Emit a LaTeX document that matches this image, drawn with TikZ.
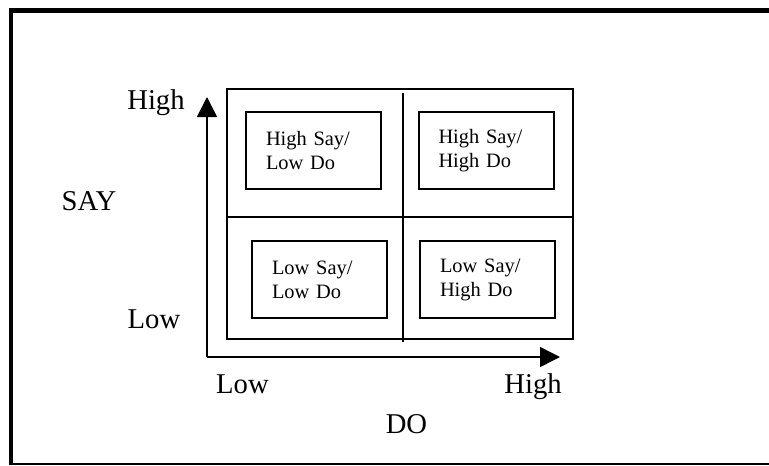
\documentclass[tikz,border=0pt]{standalone}
\usepackage{fontspec}
\setmainfont{Liberation Serif}
\usetikzlibrary{arrows.meta}

\tikzset{
  quadbox/.style={draw, line width=1.5pt, minimum width=101.25pt, minimum height=57.75pt,
    text width=71.25pt, inner xsep=15pt, align=left, font=\fontsize{15.3}{18}\selectfont},
  axislabel/.style={anchor=base, inner sep=0pt, font=\fontsize{21.5}{24}\selectfont},
  axisline/.style={line width=1.1pt, -{Triangle[length=15pt,width=15pt]}}
}

\begin{document}
\begin{tikzpicture}[x=0.75pt,y=-0.75pt]
\useasboundingbox (0,0) rectangle (769,465);

% Frame
\draw[line width=3.4pt] (11,465) -- (11,10.5) -- (769,10.5);
\draw[line width=0.8pt] (11,464) -- (769,464);

% Grid
\draw[line width=1pt] (227,89) rectangle (573,339);
\draw[line width=1pt] (227,217) -- (574,217);
\draw[line width=1pt] (403,93) -- (403,342);

% Quadrants
\node[quadbox] (hsld) at (313.5,150.5) {High Say/\\Low Do};
\node[quadbox] (hshd) at (486,150.5) {High Say/\\High Do};
\node[quadbox] (lsld) at (319.5,279.5) {Low Say/\\Low Do};
\node[quadbox] (lshd) at (487.5,279.5) {Low Say/\\High Do};

% Axes
\coordinate (origin) at (207,357);
\coordinate (saytip) at (207,97);
\coordinate (dotip) at (560,357);
\draw[axisline] (origin) -- (saytip);
\draw[axisline] (origin) -- (dotip);

% Axis labels
\node[axislabel] (sayhigh) at (156,109) {High};
\node[axislabel] (say) at (89,210) {SAY};
\node[axislabel] (saylow) at (154,328) {Low};
\node[axislabel] (dolow) at (242.5,393) {Low};
\node[axislabel] (dohigh) at (533,393) {High};
\node[axislabel] (do) at (406.5,433) {DO};

\end{tikzpicture}
\end{document}
